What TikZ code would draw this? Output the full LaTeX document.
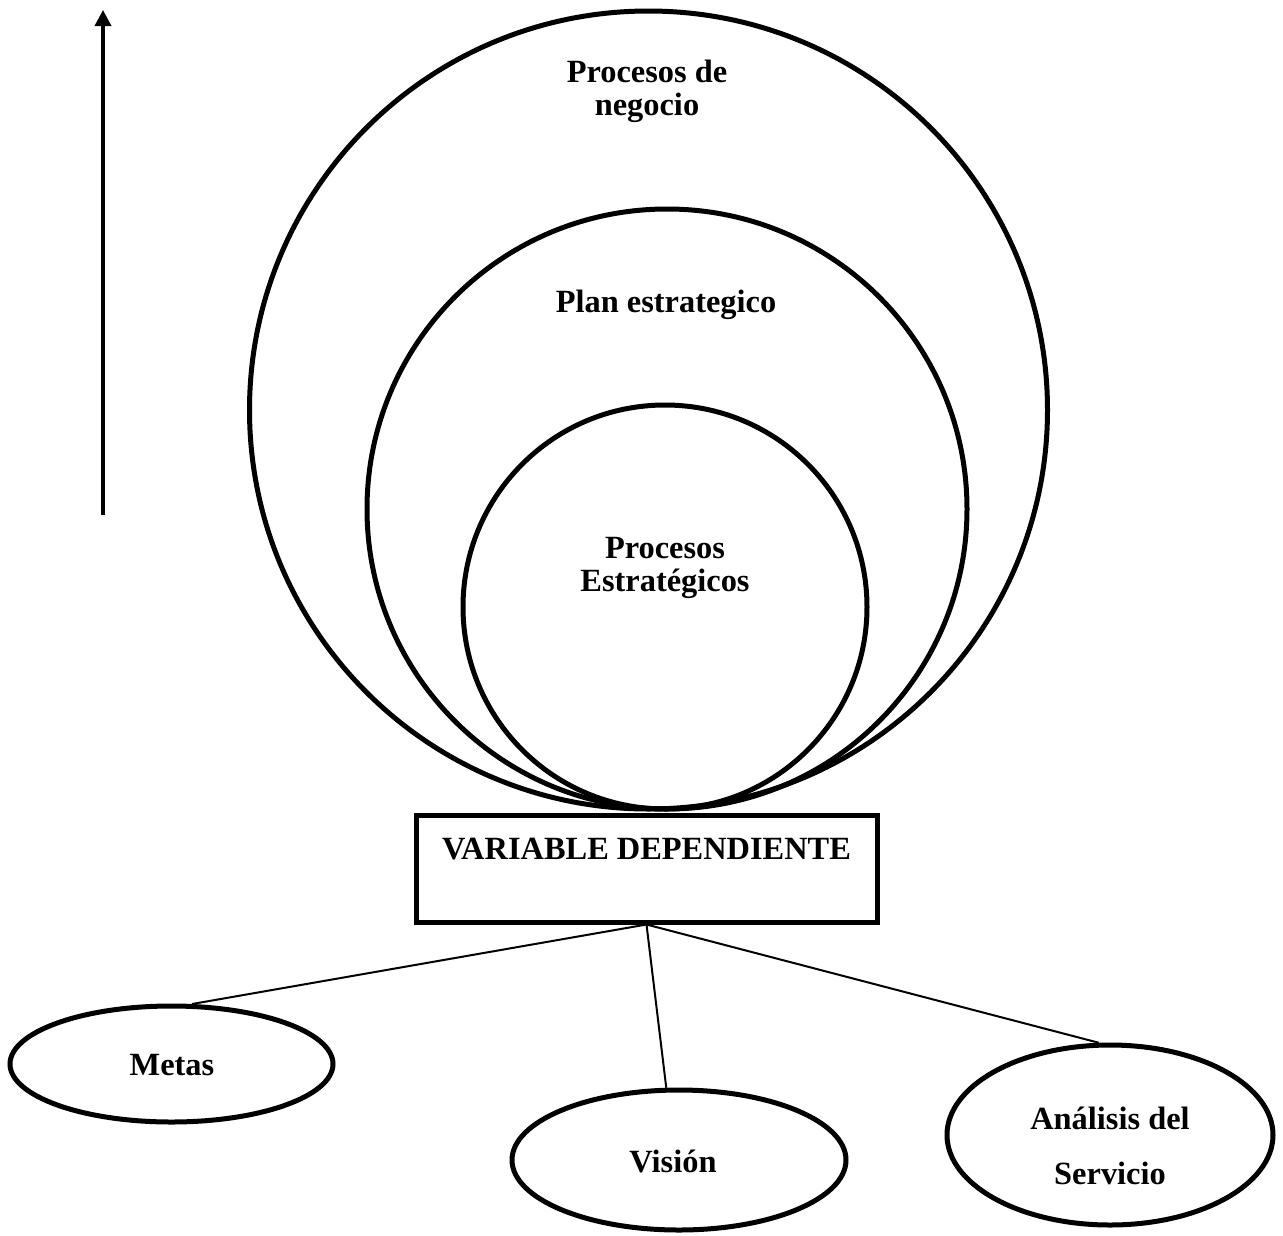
\documentclass[tikz,border=0pt]{standalone}
\usepackage{fontspec}
\setmainfont{Liberation Serif}
\usetikzlibrary{shapes.geometric,arrows.meta}
\begin{document}
\begin{tikzpicture}[x=1pt,y=-1pt,
  ring/.style={draw,circle,line width=5pt,inner sep=0pt,minimum size=#1},
  oval/.style={draw,ellipse,line width=5pt,inner sep=0pt},
  lbl/.style={font=\fontsize{32.4}{33}\selectfont\bfseries,align=center,inner sep=0pt},
  link/.style={line width=2pt}]
\useasboundingbox (0,0) rectangle (1283,1235);

% upward arrow on the left
\coordinate (arrowbase) at (103,515);
\coordinate (arrowtip) at (103,10);
\draw[line width=3.5pt,-{Triangle[length=16pt,width=16pt]}] (arrowbase) -- (arrowtip);

% nested circles touching at the bottom
\node[ring=798pt] (outer) at (648.5,410) {};
\node[ring=600pt] (middle) at (667,509) {};
\node[ring=404pt] (inner) at (665,607) {};

\node[lbl] (outerlbl) at (647,91) {Procesos de\\negocio};
\node[lbl] (middlelbl) at (666,305) {Plan estrategico};
\node[lbl] (innerlbl) at (665,568) {Procesos\\Estratégicos};

% dependent variable box
\node[draw,line width=5pt,minimum width=461pt,minimum height=107pt,inner sep=0pt] (vd) at (646.5,868.5) {};
\node[lbl] (vdlbl) at (646.5,849) {VARIABLE DEPENDIENTE};

% dimensions
\node[oval,minimum width=323pt,minimum height=116pt] (metas) at (171.5,1064) {};
\node[lbl] (metaslbl) at (172,1065) {Metas};
\node[oval,minimum width=334pt,minimum height=140pt] (vision) at (679,1160) {};
\node[lbl] (visionlbl) at (673,1161) {Visión};
\node[oval,minimum width=326pt,minimum height=180pt] (analisis) at (1110,1135) {};
\node[lbl] (analisislbl) at (1110,1146) {Análisis del\\[22pt]Servicio};

\draw[link] (vd.south) -- (metas.71);
\draw[link] (vd.south) -- (vision.100);
\draw[link] (vd.south) -- (analisis.97);
\end{tikzpicture}
\end{document}
